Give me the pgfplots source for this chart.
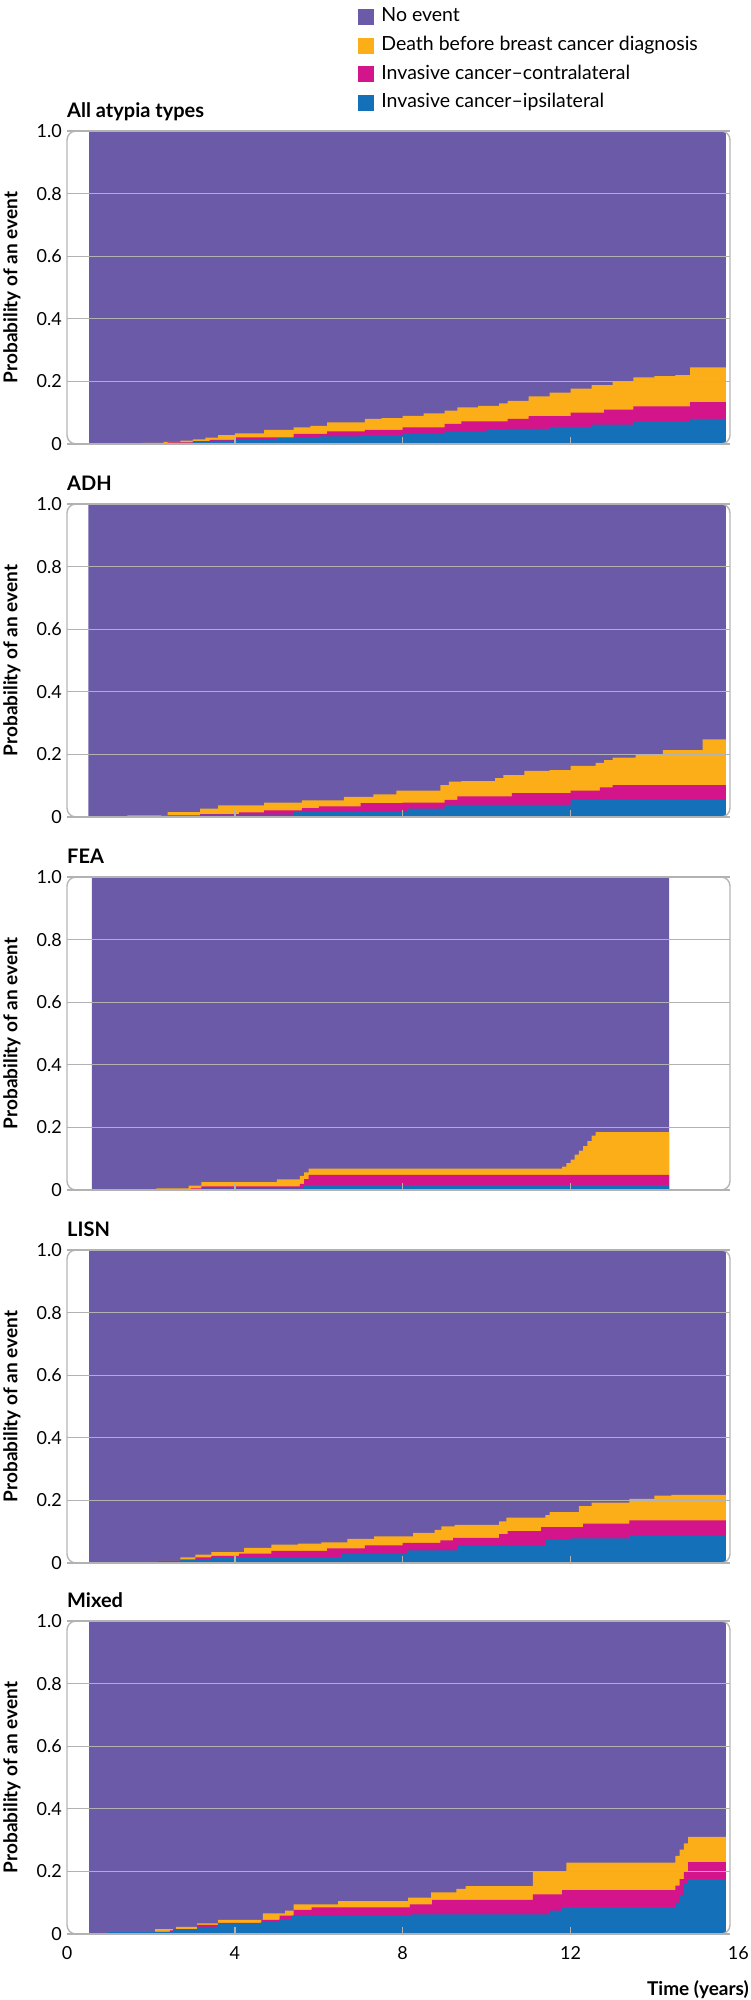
\documentclass[border=0pt]{standalone}
\usepackage{fontspec}
\setmainfont{Lato}
\usepackage{pgfplots}
\pgfplotsset{compat=1.18}
\definecolor{cpur}{RGB}{106,90,167}
\definecolor{corg}{RGB}{251,174,23}
\definecolor{cmag}{RGB}{212,20,139}
\definecolor{cblu}{RGB}{19,112,185}
\definecolor{cgrid}{RGB}{178,178,178}
\definecolor{cframe}{RGB}{182,182,182}
\newcommand{\tickfont}{\fontsize{18}{18}\selectfont}
\newcommand{\labfont}{\bfseries\fontsize{19}{19}\selectfont}
\newcommand{\titfont}{\bfseries\fontsize{20}{20}\selectfont}
\pgfplotsset{
  panel/.style={
    scale only axis, width=663pt, height=313pt,
    xmin=0, xmax=15.8, ymin=0, ymax=1,
    clip=false,
    axis line style={draw=none},
    axis on top,
    /pgf/number format/assume math mode=true,
    ytick={0,0.2,0.4,0.6,0.8,1}, yticklabels={0,0.2,0.4,0.6,0.8,1.0},
    ymajorgrids, grid style={cgrid, line width=1.3pt},
    xtick={4,8,12}, xticklabels={},
    xtick pos=left, tick align=inside,
    major tick length=7pt,
    xtick style={cgrid, line width=1.3pt},
    ytick style={draw=none},
    yticklabel style={font=\tickfont, inner sep=0pt, anchor=east, xshift=-5pt},
    xticklabel style={font=\tickfont, inner sep=0pt, anchor=north, yshift=-12pt},
  },
  fillplot/.style={draw=none, const plot, forget plot},
}
\newcommand{\frameit}[1]{%
  \draw[cframe, line width=1.4pt, rounded corners=9pt] (rel axis cs:0,0) rectangle (rel axis cs:1,1);
  \node[anchor=base west, inner sep=0pt, font=\titfont] at ([yshift=13.5pt]rel axis cs:0,1) {#1};
  \node[rotate=90, anchor=center, inner sep=0pt, font=\labfont] at ([xshift=-55pt]rel axis cs:0,0.5) {Probability of an event};
}
\begin{document}
\begin{tikzpicture}[x=1pt,y=1pt]
\path[use as bounding box] (0,0) rectangle (750,-2000);

% ---------------- All atypia types
\begin{axis}[panel, at={(67pt,-131pt)}, anchor=north west,
  legend cell align=left,
  legend style={at={(rel axis cs:0.4389,1.3978)}, anchor=north west, draw=none, fill=none,
    inner sep=0pt, font=\fontsize{19.5}{19.5}\selectfont, row sep=8.7pt,
    nodes={inner sep=0pt, text height=15pt, text depth=5pt}}]
\addlegendimage{legend image code/.code={\fill[cpur] (0pt,-7.5pt) rectangle (15pt,7.5pt); \path[draw=none,fill=none] (15pt,0pt) -- (23pt,0pt);}}
\addlegendimage{legend image code/.code={\fill[corg] (0pt,-7.5pt) rectangle (15pt,7.5pt); \path[draw=none,fill=none] (15pt,0pt) -- (23pt,0pt);}}
\addlegendimage{legend image code/.code={\fill[cmag] (0pt,-7.5pt) rectangle (15pt,7.5pt); \path[draw=none,fill=none] (15pt,0pt) -- (23pt,0pt);}}
\addlegendimage{legend image code/.code={\fill[cblu] (0pt,-7.5pt) rectangle (15pt,7.5pt); \path[draw=none,fill=none] (15pt,0pt) -- (23pt,0pt);}}
\legend{No event, Death before breast cancer diagnosis, Invasive cancer–contralateral, Invasive cancer–ipsilateral}
\addplot[fillplot, fill=cpur] coordinates {(0.53,1)(15.7,1)} \closedcycle;
\addplot[fillplot, fill=corg] coordinates {(0.53,0)(1.2,0.002)(1.8,0.004)(2.3,0.007)(2.7,0.011)(3.0,0.015)(3.3,0.02)(3.6,0.028)(4.0,0.034)(4.7,0.045)(5.4,0.053)(5.8,0.058)(6.2,0.069)(7.1,0.08)(7.5,0.083)(8.0,0.09)(8.5,0.098)(9.0,0.107)(9.3,0.117)(9.8,0.122)(10.3,0.13)(10.5,0.138)(11.0,0.152)(11.5,0.164)(12.0,0.177)(12.5,0.188)(13.0,0.2)(13.5,0.213)(14.0,0.217)(14.5,0.22)(14.85,0.245)(15.7,0.245)} \closedcycle;
\addplot[fillplot, fill=cmag] coordinates {(0.53,0)(1.5,0.002)(2.4,0.005)(3.0,0.009)(3.4,0.013)(4.0,0.021)(5.4,0.032)(6.2,0.04)(7.1,0.045)(8.0,0.053)(9.0,0.064)(9.4,0.072)(10.5,0.08)(11.0,0.089)(12.0,0.1)(12.8,0.11)(13.5,0.12)(14.85,0.134)(15.7,0.134)} \closedcycle;
\addplot[fillplot, fill=cblu] coordinates {(0.53,0)(1.5,0.002)(2.5,0.004)(3.0,0.007)(3.5,0.011)(4.0,0.014)(5.0,0.019)(6.0,0.024)(7.0,0.028)(8.0,0.032)(9.0,0.038)(10.0,0.045)(10.5,0.048)(11.5,0.055)(12.5,0.062)(13.5,0.07)(14.85,0.08)(15.7,0.08)} \closedcycle;
\frameit{All atypia types}
\end{axis}

% ---------------- ADH
\begin{axis}[panel, at={(67pt,-504pt)}, anchor=north west]
\addplot[fillplot, fill=cpur] coordinates {(0.51,1)(15.7,1)} \closedcycle;
\addplot[fillplot, fill=corg] coordinates {(0.51,0)(1.44,0.005)(2.4,0.016)(3.17,0.027)(3.6,0.037)(4.7,0.046)(5.6,0.053)(6.6,0.064)(7.3,0.072)(7.85,0.084)(8.9,0.102)(9.1,0.113)(9.4,0.115)(10.2,0.124)(10.4,0.134)(10.9,0.147)(11.5,0.15)(12.0,0.163)(12.6,0.173)(12.8,0.182)(13.0,0.19)(13.55,0.2)(14.2,0.214)(15.15,0.248)(15.7,0.248)} \closedcycle;
\addplot[fillplot, fill=cmag] coordinates {(0.51,0)(2.25,0.005)(3.17,0.009)(4.1,0.015)(4.7,0.021)(5.6,0.028)(6.0,0.034)(7.0,0.044)(8.0,0.046)(9.0,0.055)(9.3,0.066)(10.6,0.076)(12.0,0.084)(12.7,0.095)(13.0,0.102)(15.7,0.102)} \closedcycle;
\addplot[fillplot, fill=cblu] coordinates {(0.51,0)(3.17,0.008)(5.4,0.016)(8.1,0.027)(9.0,0.039)(12.0,0.055)(15.7,0.055)} \closedcycle;
\frameit{ADH}
\end{axis}

% ---------------- FEA
\begin{axis}[panel, at={(67pt,-877pt)}, anchor=north west]
\addplot[fillplot, fill=cpur] coordinates {(0.59,1)(14.35,1)} \closedcycle;
\addplot[fillplot, fill=corg] coordinates {(0.59,0)(2.13,0.005)(2.9,0.014)(3.2,0.025)(5.0,0.034)(5.55,0.045)(5.65,0.056)(5.76,0.068)(11.8,0.075)(11.9,0.086)(12.0,0.097)(12.1,0.113)(12.2,0.126)(12.3,0.14)(12.4,0.156)(12.5,0.174)(12.6,0.185)(14.35,0.185)} \closedcycle;
\addplot[fillplot, fill=cmag] coordinates {(0.59,0)(2.95,0.005)(3.2,0.012)(5.55,0.02)(5.65,0.035)(5.76,0.048)(14.35,0.048)} \closedcycle;
\addplot[fillplot, fill=cblu] coordinates {(0.59,0)(3.2,0.005)(5.65,0.016)(14.35,0.016)} \closedcycle;
\frameit{FEA}
\end{axis}

% ---------------- LISN
\begin{axis}[panel, at={(67pt,-1250pt)}, anchor=north west]
\addplot[fillplot, fill=cpur] coordinates {(0.53,1)(15.7,1)} \closedcycle;
\addplot[fillplot, fill=corg] coordinates {(0.53,0)(1.26,0.002)(2.17,0.0075)(2.7,0.018)(3.06,0.027)(3.44,0.035)(4.22,0.048)(4.87,0.059)(5.5,0.062)(6.06,0.066)(6.68,0.077)(7.32,0.085)(8.25,0.096)(8.76,0.106)(8.92,0.117)(9.24,0.122)(10.3,0.133)(10.47,0.145)(11.4,0.153)(11.5,0.163)(12.2,0.182)(12.5,0.193)(13.4,0.205)(14.0,0.215)(14.4,0.218)(15.7,0.218)} \closedcycle;
\addplot[fillplot, fill=cmag] coordinates {(0.53,0)(1.26,0.002)(2.17,0.0075)(2.7,0.011)(3.06,0.018)(3.44,0.023)(4.1,0.03)(4.87,0.039)(6.2,0.047)(7.1,0.056)(8.0,0.064)(8.9,0.072)(9.2,0.08)(10.3,0.092)(10.5,0.102)(11.3,0.115)(12.3,0.126)(13.4,0.136)(15.7,0.136)} \closedcycle;
\addplot[fillplot, fill=cblu] coordinates {(0.53,0)(1.26,0.002)(2.17,0.0075)(2.7,0.011)(3.44,0.019)(6.54,0.029)(8.1,0.04)(9.3,0.054)(11.4,0.073)(12.0,0.079)(13.4,0.088)(15.7,0.088)} \closedcycle;
\frameit{LISN}
\end{axis}

% ---------------- Mixed
\begin{axis}[panel, at={(67pt,-1621pt)}, anchor=north west,
  xticklabels={4,8,12},
  extra x ticks={0}, extra x tick labels={0},
  extra x tick style={major tick length=0pt}]
\addplot[fillplot, fill=cpur] coordinates {(0.53,1)(15.7,1)} \closedcycle;
\addplot[fillplot, fill=corg] coordinates {(0.53,0)(0.98,0.007)(2.1,0.016)(2.6,0.023)(3.1,0.034)(3.6,0.045)(4.67,0.066)(5.2,0.075)(5.4,0.095)(6.46,0.105)(8.13,0.116)(8.68,0.133)(9.28,0.144)(9.5,0.153)(11.1,0.2)(11.9,0.228)(14.5,0.25)(14.6,0.27)(14.7,0.29)(14.8,0.31)(15.7,0.31)} \closedcycle;
\addplot[fillplot, fill=cmag] coordinates {(0.53,0)(0.98,0.007)(2.45,0.012)(2.6,0.016)(3.1,0.029)(3.6,0.036)(4.63,0.045)(5.07,0.059)(5.4,0.077)(5.83,0.085)(8.17,0.095)(8.7,0.109)(11.1,0.127)(11.8,0.14)(14.5,0.155)(14.6,0.175)(14.7,0.2)(14.8,0.23)(15.7,0.23)} \closedcycle;
\addplot[fillplot, fill=cblu] coordinates {(0.53,0)(0.98,0.007)(2.53,0.016)(3.1,0.023)(3.6,0.034)(4.63,0.039)(5.07,0.048)(5.35,0.059)(8.2,0.063)(11.5,0.075)(11.8,0.086)(14.5,0.1)(14.6,0.125)(14.7,0.16)(14.8,0.175)(15.7,0.175)} \closedcycle;
\frameit{Mixed}
\node[anchor=north, inner sep=0pt, font=\tickfont] at ([yshift=-12pt]axis cs:16,0) {16};
\node[anchor=base east, inner sep=0pt, font=\labfont] at ([xshift=19pt,yshift=-61pt]rel axis cs:1,0) {Time (years)};
\end{axis}
\end{tikzpicture}
\end{document}
